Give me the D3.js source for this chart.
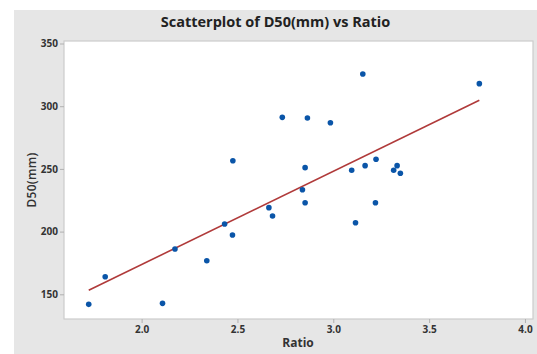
<!DOCTYPE html>
<html>
<head>
<meta charset="utf-8">
<script src="https://cdn.jsdelivr.net/npm/d3@7"></script>
<style>
  body { margin: 0; background: #fff; }
  text { font-family: "Open Sans", "DejaVu Sans", sans-serif; }
</style>
</head>
<body>
<div id="chart"></div>
<script>
// values
const ratio = [1.724, 1.810, 2.109, 2.174, 2.340, 2.433, 2.474, 2.476, 2.664, 2.683,
  2.734, 2.839, 2.853, 2.853, 2.865, 2.985, 3.096, 3.116, 3.154, 3.166,
  3.220, 3.223, 3.315, 3.333, 3.350, 3.762];
const d50 = [142.0, 164.0, 142.8, 186.1, 176.8, 206.1, 197.3, 256.5, 219.1, 212.4,
  291.1, 233.4, 223.0, 251.0, 290.6, 286.8, 248.9, 207.1, 325.7, 252.6,
  223.0, 257.7, 248.9, 252.6, 246.5, 318.0];
const xTicks = [2.0, 2.5, 3.0, 3.5, 4.0];
const yTicks = [150, 200, 250, 300, 350];

const data = ratio.map((r, i) => ({x: r, y: d50[i]}));

const width = 537, height = 354;
const plot = {left: 64, right: 533, top: 41, bottom: 319};

const xScale = d3.scaleLinear()
  .domain([1.595, 4.042])
  .range([plot.left, plot.right]);

const yScale = d3.scaleLinear()
  .domain([130.3, 352])
  .range([plot.bottom, plot.top]);

const svg = d3.select("#chart")
  .append("svg")
  .attr("width", width)
  .attr("height", height);

// grey panel behind everything
svg.append("rect")
  .attr("x", 14).attr("y", 10)
  .attr("width", width - 14).attr("height", height - 10)
  .attr("fill", "#e6e6e6");

svg.append("rect")
  .attr("x", plot.left).attr("y", plot.top)
  .attr("width", plot.right - plot.left).attr("height", plot.bottom - plot.top)
  .attr("fill", "#fff")
  .attr("stroke", "#cccccc")
  .attr("stroke-width", 1.2);

const xAxis = svg.append("g")
  .attr("transform", `translate(0,${plot.bottom})`)
  .call(d3.axisBottom(xScale).tickValues(xTicks).tickFormat(d3.format(".1f")).tickSizeOuter(0).tickSize(4).tickPadding(3));

const yAxis = svg.append("g")
  .attr("transform", `translate(${plot.left},0)`)
  .call(d3.axisLeft(yScale).tickValues(yTicks).tickSizeOuter(0).tickSize(4).tickPadding(2));

[xAxis, yAxis].forEach(g => {
  g.select(".domain").remove();
  g.selectAll(".tick line").attr("stroke", "#b0b0b0");
  g.selectAll(".tick text")
    .attr("fill", "#333")
    .attr("font-size", 10)
    .attr("font-weight", "bold")
    .style("font-family", "'Open Sans', sans-serif");
});

// least squares fit
const mx = d3.mean(data, d => d.x), my = d3.mean(data, d => d.y);
const slope = d3.sum(data, d => (d.x - mx) * (d.y - my)) / d3.sum(data, d => (d.x - mx) ** 2);
const icpt = my - slope * mx;
const xr = d3.extent(data, d => d.x);

svg.append("line")
  .attr("x1", xScale(xr[0])).attr("y1", yScale(icpt + slope * xr[0]))
  .attr("x2", xScale(xr[1])).attr("y2", yScale(icpt + slope * xr[1]))
  .attr("stroke", "#b03a3a")
  .attr("stroke-width", 1.6);

svg.selectAll("circle")
  .data(data)
  .enter()
  .append("circle")
  .attr("cx", d => xScale(d.x))
  .attr("cy", d => yScale(d.y))
  .attr("r", 2.8)
  .attr("fill", "#0a55a8");

svg.append("text")
  .attr("x", 275.5).attr("y", 27)
  .attr("text-anchor", "middle")
  .attr("font-size", 14.5)
  .attr("font-weight", "bold")
  .attr("fill", "#222")
  .text("Scatterplot of D50(mm) vs Ratio");

svg.append("text")
  .attr("x", 298).attr("y", 347)
  .attr("text-anchor", "middle")
  .attr("font-size", 12)
  .attr("font-weight", "bold")
  .attr("fill", "#333")
  .text("Ratio");

svg.append("text")
  .attr("transform", "translate(36,180) rotate(-90)")
  .attr("text-anchor", "middle")
  .attr("font-size", 12)
  .attr("font-weight", 600)
  .attr("letter-spacing", 0.3)
  .attr("fill", "#333")
  .text("D50(mm)");
</script>
</body>
</html>
